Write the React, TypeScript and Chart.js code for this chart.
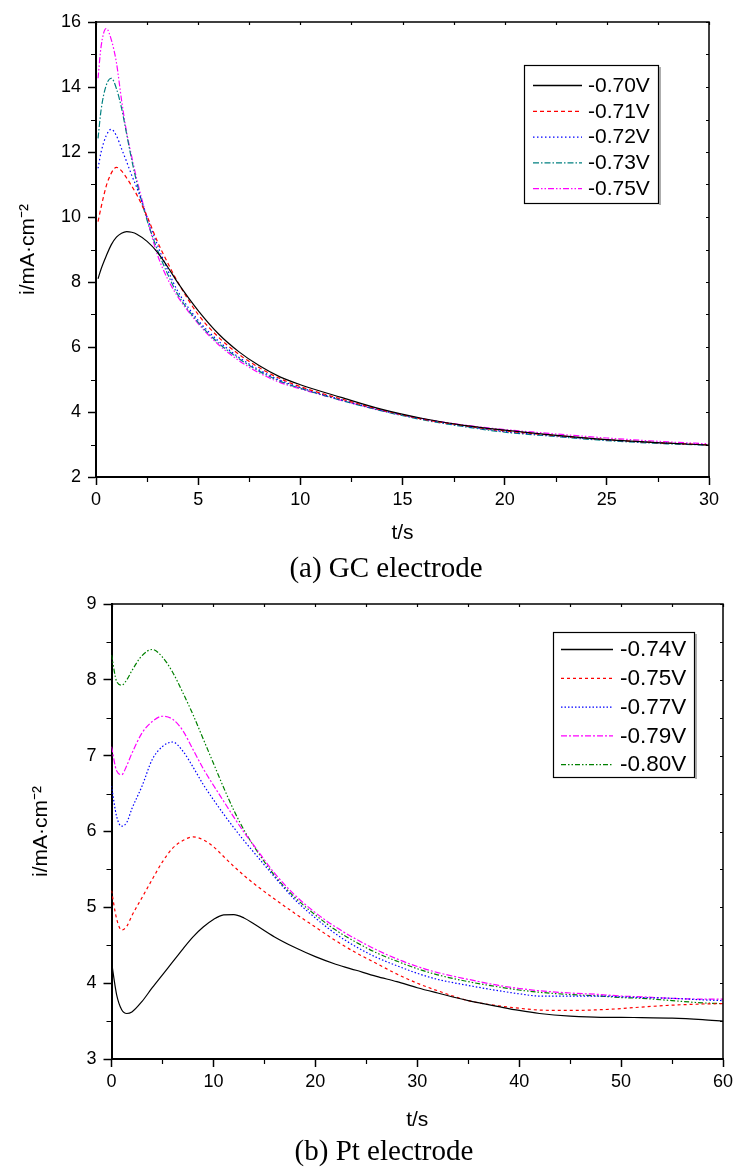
import React, { useEffect, useRef } from 'react';
import { Chart, registerables } from 'chart.js';

Chart.register(...registerables);
Chart.defaults.font.family = "'Liberation Sans', Arial, sans-serif";
Chart.defaults.color = '#000';

// ---------- (a) GC electrode ----------
const gcTime = [0.1, 0.25, 0.5, 0.75, 1, 1.25, 1.5, 1.75, 2, 2.5, 3, 3.5, 4, 5, 6, 7, 8, 9, 10, 12, 14, 16, 18, 20, 22, 25, 28, 30];
const gc070 = [8.1, 8.4, 8.8, 9.15, 9.38, 9.5, 9.55, 9.53, 9.47, 9.25, 8.92, 8.47, 7.98, 7.12, 6.4, 5.85, 5.42, 5.08, 4.84, 4.45, 4.08, 3.8, 3.59, 3.44, 3.31, 3.15, 3.04, 2.98];
const gc071 = [9.86, 10.3, 10.95, 11.35, 11.53, 11.42, 11.2, 10.95, 10.68, 10.02, 9.25, 8.6, 8.0, 7.0, 6.3, 5.77, 5.36, 5.03, 4.78, 4.4, 4.06, 3.78, 3.58, 3.42, 3.3, 3.15, 3.04, 2.99];
const gc072 = [11.5, 12.0, 12.5, 12.7, 12.5, 12.1, 11.7, 11.28, 10.9, 10.0, 9.15, 8.38, 7.72, 6.82, 6.18, 5.68, 5.29, 4.98, 4.75, 4.38, 4.05, 3.78, 3.57, 3.4, 3.29, 3.14, 3.04, 2.99];
const gc073 = [12.42, 13.3, 14.05, 14.27, 13.95, 13.35, 12.55, 11.75, 11.05, 9.9, 9.0, 8.25, 7.62, 6.76, 6.12, 5.64, 5.25, 4.95, 4.73, 4.36, 4.03, 3.76, 3.55, 3.38, 3.27, 3.12, 3.02, 2.98];
const gc075 = [14.27, 15.25, 15.8, 15.45, 14.75, 13.6, 12.6, 11.85, 11.15, 9.95, 8.85, 8.1, 7.55, 6.72, 6.07, 5.58, 5.2, 4.91, 4.71, 4.36, 4.04, 3.79, 3.6, 3.46, 3.35, 3.2, 3.08, 3.02];
const gcLabels = ['-0.70V', '-0.71V', '-0.72V', '-0.73V', '-0.75V'];

// ---------- (b) Pt electrode ----------
const ptTime = [0, 0.5, 1, 1.5, 2, 3, 4, 5, 6, 7, 8, 9, 10, 11, 12, 13, 14, 16, 18, 20, 22, 24, 26, 28, 30, 32, 35, 38, 40, 42, 45, 48, 50, 52, 55, 58, 60];
const pt074 = [4.28, 3.85, 3.65, 3.6, 3.62, 3.76, 3.94, 4.11, 4.28, 4.45, 4.61, 4.74, 4.84, 4.9, 4.905, 4.86, 4.78, 4.61, 4.47, 4.35, 4.25, 4.17, 4.09, 4.02, 3.94, 3.87, 3.77, 3.69, 3.64, 3.6, 3.565, 3.55, 3.55, 3.545, 3.54, 3.52, 3.5];
const pt075 = [5.22, 4.85, 4.7, 4.75, 4.89, 5.13, 5.37, 5.6, 5.78, 5.88, 5.93, 5.89, 5.8, 5.67, 5.54, 5.42, 5.31, 5.11, 4.92, 4.74, 4.56, 4.4, 4.26, 4.12, 4.0, 3.9, 3.77, 3.7, 3.67, 3.645, 3.64, 3.65, 3.665, 3.685, 3.71, 3.725, 3.73];
const pt077 = [6.6, 6.2, 6.07, 6.12, 6.3, 6.6, 6.95, 7.12, 7.18, 7.06, 6.85, 6.62, 6.42, 6.23, 6.05, 5.88, 5.72, 5.4, 5.1, 4.86, 4.65, 4.48, 4.34, 4.23, 4.13, 4.05, 3.97, 3.9, 3.86, 3.83, 3.83, 3.83, 3.82, 3.81, 3.8, 3.78, 3.77];
const pt079 = [7.12, 6.8, 6.75, 6.87, 7.03, 7.3, 7.45, 7.52, 7.48, 7.33, 7.08, 6.83, 6.61, 6.4, 6.19, 5.99, 5.81, 5.45, 5.16, 4.93, 4.74, 4.58, 4.44, 4.32, 4.22, 4.14, 4.05, 3.97, 3.93, 3.9, 3.87, 3.85, 3.83, 3.82, 3.8, 3.79, 3.79];
const pt080 = [8.33, 7.98, 7.93, 8.0, 8.12, 8.32, 8.4, 8.3, 8.1, 7.83, 7.54, 7.22, 6.9, 6.58, 6.28, 6.02, 5.8, 5.42, 5.13, 4.9, 4.7, 4.54, 4.4, 4.29, 4.19, 4.11, 4.02, 3.95, 3.91, 3.88, 3.85, 3.83, 3.81, 3.8, 3.77, 3.74, 3.73];
const ptLabels = ['-0.74V', '-0.75V', '-0.77V', '-0.79V', '-0.80V'];

const yTitle = 'i/mA·cm⁻²';
const xTitle = 't/s';

const pts = (t: number[], v: number[]) => t.map((x, i) => ({ x, y: v[i] }));

const line = (label: string, t: number[], v: number[], color: string, dash: number[]) => ({
  label,
  data: pts(t, v),
  borderColor: color,
  backgroundColor: color,
  borderWidth: 1.2,
  borderDash: dash,
  pointRadius: 0,
  fill: false,
  cubicInterpolationMode: 'monotone' as const,
});

const framePlugin = {
  id: 'frame',
  afterDatasetsDraw(chart: any, _a: any, o: any) {
    const { ctx, chartArea: a, scales } = chart;
    const x = scales.x, y = scales.y;
    ctx.save();
    ctx.strokeStyle = '#000';
    ctx.lineWidth = 1.5;
    ctx.beginPath();
    ctx.moveTo(a.left, a.top);
    ctx.lineTo(a.right, a.top);
    ctx.lineTo(a.right, a.bottom);
    ctx.stroke();
    ctx.lineWidth = 1.2;
    const isMajor = (v: number, m: number) => Math.abs(v / m - Math.round(v / m)) < 1e-6;
    ctx.beginPath();
    for (let v = x.min; v <= x.max + 1e-9; v += o.xMinor) {
      const px = Math.round(x.getPixelForValue(v)) + 0.5;
      if (!isMajor(v, o.xMajor)) {
        ctx.moveTo(px, a.bottom);
        ctx.lineTo(px, a.bottom + 5);
      }
      ctx.moveTo(px, a.top);
      ctx.lineTo(px, a.top + 3);
    }
    for (let v = y.min; v <= y.max + 1e-9; v += o.yMinor) {
      const py = Math.round(y.getPixelForValue(v)) + 0.5;
      if (!isMajor(v, o.yMajor)) {
        ctx.moveTo(a.left, py);
        ctx.lineTo(a.left - 5, py);
      }
      ctx.moveTo(a.right, py);
      ctx.lineTo(a.right - 3, py);
    }
    ctx.stroke();
    ctx.restore();
  },
};

const legendPlugin = {
  id: 'boxLegend',
  afterDraw(chart: any, _a: any, o: any) {
    const ctx = chart.ctx;
    ctx.save();
    ctx.fillStyle = '#fff';
    ctx.fillRect(o.left, o.top, o.right - o.left, o.bottom - o.top);
    ctx.strokeStyle = '#000';
    ctx.lineWidth = 1.2;
    ctx.strokeRect(o.left + 0.5, o.top + 0.5, o.right - o.left, o.bottom - o.top);
    ctx.strokeStyle = '#777';
    ctx.beginPath();
    ctx.moveTo(o.right + 2, o.top + 2);
    ctx.lineTo(o.right + 2, o.bottom + 2);
    ctx.stroke();
    chart.data.datasets.forEach((ds: any, i: number) => {
      const yy = o.firstRow + i * o.rowGap;
      ctx.strokeStyle = ds.borderColor;
      ctx.lineWidth = 1.3;
      ctx.setLineDash(ds.borderDash || []);
      ctx.beginPath();
      ctx.moveTo(o.sx1, yy + 0.5);
      ctx.lineTo(o.sx2, yy + 0.5);
      ctx.stroke();
      ctx.setLineDash([]);
      ctx.fillStyle = '#000';
      ctx.font = o.font;
      ctx.textBaseline = 'middle';
      ctx.textAlign = 'left';
      ctx.fillText(ds.label, o.textX, yy + 1);
    });
    ctx.restore();
  },
};

const axisCommon = () => ({
  grid: { drawOnChartArea: false, drawTicks: true, tickLength: 8, tickColor: '#000', tickWidth: 1.5, color: '#000' },
  border: { color: '#000', width: 2 },
});

function makeConfig(p: any) {
  return {
    type: 'line' as const,
    data: { datasets: p.datasets },
    options: {
      animation: false as const,
      responsive: true,
      maintainAspectRatio: false,
      layout: { padding: { top: p.padTop, right: p.padRight, bottom: 0, left: 0 } },
      plugins: {
        legend: { display: false },
        tooltip: { enabled: false },
        frame: p.frame,
        boxLegend: p.legend,
      },
      scales: {
        x: {
          type: 'linear' as const,
          min: p.xMin,
          max: p.xMax,
          ...axisCommon(),
          ticks: { stepSize: p.frame.xMajor, padding: 4, color: '#000', font: { size: 18 }, maxRotation: 0, autoSkip: false },
          title: { display: true, text: xTitle, color: '#000', font: { size: 21 }, padding: { top: 0, bottom: p.xTitlePad } },
          afterFit: (s: any) => {
            s.height = p.xHeight;
            s.paddingLeft = 0;
            s.paddingRight = 0;
          },
        },
        y: {
          type: 'linear' as const,
          min: p.yMin,
          max: p.yMax,
          ...axisCommon(),
          ticks: { stepSize: p.frame.yMajor, padding: 7, color: '#000', font: { size: 18 } },
          title: { display: true, text: yTitle, color: '#000', font: { size: 21 }, padding: { top: p.yTitlePad, bottom: 0 } },
          afterFit: (s: any) => {
            s.width = p.yWidth;
            s.paddingTop = 0;
            s.paddingBottom = 0;
          },
        },
      },
    },
    plugins: [framePlugin, legendPlugin],
  };
}

const gcConfig = () =>
  makeConfig({
    datasets: [
      line(gcLabels[0], gcTime, gc070, '#000000', []),
      line(gcLabels[1], gcTime, gc071, '#ff0000', [4, 3]),
      line(gcLabels[2], gcTime, gc072, '#0000ff', [1.5, 2.5]),
      line(gcLabels[3], gcTime, gc073, '#008080', [6, 2, 1.5, 2]),
      line(gcLabels[4], gcTime, gc075, '#ff00ff', [6, 2, 1.5, 2, 1.5, 2]),
    ],
    xMin: 0, xMax: 30, yMin: 2, yMax: 16,
    padTop: 22, padRight: 24, xHeight: 83, yWidth: 96, xTitlePad: 14.4, yTitlePad: 15.4,
    frame: { xMajor: 5, xMinor: 2.5, yMajor: 2, yMinor: 1 },
    legend: { left: 524, top: 65, right: 658, bottom: 203, firstRow: 85, rowGap: 25.8, sx1: 533, sx2: 582, textX: 588, font: "21px 'Liberation Sans', Arial, sans-serif" },
  });

const ptConfig = () =>
  makeConfig({
    datasets: [
      line(ptLabels[0], ptTime, pt074, '#000000', []),
      line(ptLabels[1], ptTime, pt075, '#ff0000', [3, 3]),
      line(ptLabels[2], ptTime, pt077, '#0000ff', [1.5, 2]),
      line(ptLabels[3], ptTime, pt079, '#ff00ff', [6, 2, 2, 2]),
      line(ptLabels[4], ptTime, pt080, '#008000', [5, 2, 1.5, 2, 1.5, 2]),
    ],
    xMin: 0, xMax: 60, yMin: 3, yMax: 9,
    padTop: 24, padRight: 10, xHeight: 81, yWidth: 111.5, xTitlePad: 7.4, yTitlePad: 28.4,
    frame: { xMajor: 10, xMinor: 5, yMajor: 1, yMinor: 0.5 },
    legend: { left: 553, top: 52, right: 694, bottom: 197, firstRow: 69, rowGap: 28.8, sx1: 561, sx2: 613, textX: 620, font: "22.5px 'Liberation Sans', Arial, sans-serif" },
  });

function ChartBox({ make, top, height }: { make: () => any; top: number; height: number }) {
  const ref = useRef<HTMLCanvasElement>(null);
  useEffect(() => {
    const chart = new Chart(ref.current as HTMLCanvasElement, make());
    return () => chart.destroy();
  }, []);
  return (
    <div style={{ position: 'absolute', left: 0, top, width: 733, height }}>
      <canvas ref={ref} />
    </div>
  );
}

const captionStyle = (top: number, cx: number): React.CSSProperties => ({
  position: 'absolute',
  top,
  left: cx,
  transform: 'translateX(-50%)',
  whiteSpace: 'nowrap',
  fontFamily: "'Liberation Serif', 'Times New Roman', serif",
  fontSize: 29,
  lineHeight: '29px',
  color: '#000',
});

export default function App() {
  return (
    <div style={{ position: 'absolute', left: 0, top: 0, width: 733, height: 1167, background: '#fff', overflow: 'hidden' }}>
      <ChartBox make={gcConfig} top={0} height={560} />
      <div style={captionStyle(553, 386)}>(a) GC electrode</div>
      <ChartBox make={ptConfig} top={580} height={560} />
      <div style={captionStyle(1136, 384)}>(b) Pt electrode</div>
    </div>
  );
}
